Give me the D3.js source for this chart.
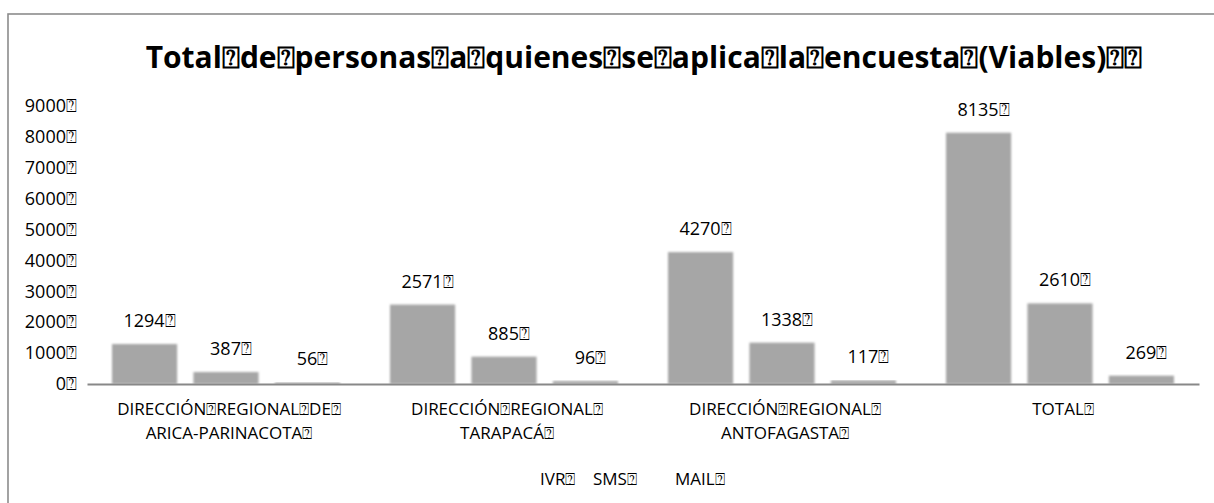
<!DOCTYPE html>
<html>
<head>
<meta charset="utf-8">
<script src="https://cdn.jsdelivr.net/npm/d3@7"></script>
<style>
  html, body { margin: 0; padding: 0; background: #fff; }
  svg { display: block; }
  text { font-family: "Open Sans", "DejaVu Sans", sans-serif; fill: #000; }
</style>
</head>
<body>
<svg id="chart" width="1214" height="503"></svg>
<script>
const B = "\u2370";
const titleText = "Total" + B + "de" + B + "personas" + B + "a" + B + "quienes" + B + "se" + B + "aplica" + B + "la" + B + "encuesta" + B + "(Viables)" + B + B;
const categories = ["ARICA", "TARAPACA", "ANTOFAGASTA", "TOTAL"];
const categoryLines = [
  ["DIRECCIÓN" + B + "REGIONAL" + B + "DE" + B, "ARICA-PARINACOTA" + B],
  ["DIRECCIÓN" + B + "REGIONAL" + B, "TARAPACÁ" + B],
  ["DIRECCIÓN" + B + "REGIONAL" + B, "ANTOFAGASTA" + B],
  ["TOTAL" + B]
];
const seriesNames = ["IVR", "SMS", "MAIL"];
const ivrValues = [1294, 2571, 4270, 8135];
const smsValues = [387, 885, 1338, 2610];
const mailValues = [56, 96, 117, 269];
const yTicks = [0, 1000, 2000, 3000, 4000, 5000, 6000, 7000, 8000, 9000];

const seriesValues = [ivrValues, smsValues, mailValues];

const svg = d3.select("#chart");
const defs = svg.append("defs");
defs.append("filter").attr("id", "soft")
  .attr("x", "-10%").attr("y", "-10%").attr("width", "120%").attr("height", "120%")
  .append("feGaussianBlur").attr("stdDeviation", 1.1);

// outer frame
svg.append("rect").attr("x", 8).attr("y", 14).attr("width", 1300).attr("height", 700)
  .attr("fill", "none").attr("stroke", "#8c8c8c").attr("stroke-width", 1.6);

const x0 = d3.scaleBand().domain(categories).range([87, 1199]).paddingInner(0).paddingOuter(0);
const x1 = d3.scaleBand().domain(seriesNames).range([25, x0.bandwidth() - 25]).paddingInner(0.2).paddingOuter(0);
const y = d3.scaleLinear().domain([0, 9000]).range([384, 106]);

// title
svg.append("text").attr("x", 644).attr("y", 68).attr("text-anchor", "middle")
  .style("font-size", "30px").style("font-weight", "bold").text(titleText);

// y axis
const yAxis = d3.axisLeft(y).tickValues(yTicks).tickSize(0).tickPadding(10)
  .tickFormat(d => d + B);
const gy = svg.append("g").attr("transform", "translate(87,0)").call(yAxis);
gy.select(".domain").remove();
gy.selectAll("text").style("font-size", "18px").style("font-family", "'Open Sans', sans-serif").attr("fill", "#000");

// bars
const groups = svg.append("g").selectAll("g").data(categories).join("g")
  .attr("transform", d => `translate(${x0(d)},0)`);
const cells = (c, i) => seriesNames.map((s, j) => ({ s, v: seriesValues[j][i] }));
groups.selectAll("rect").data(cells)
  .join("rect")
  .attr("x", d => x1(d.s)).attr("width", x1.bandwidth())
  .attr("y", d => y(d.v)).attr("height", d => y(0) - y(d.v))
  .attr("fill", "#a6a6a6").attr("filter", "url(#soft)");
groups.selectAll("text.val").data(cells)
  .join("text").attr("class", "val")
  .attr("x", d => x1(d.s) + x1.bandwidth() / 2 + 5)
  .attr("y", d => y(d.v) - 17)
  .attr("text-anchor", "middle").style("font-size", "18px")
  .text(d => d.v + B);

// x axis
const xAxis = d3.axisBottom(x0).tickSize(0).tickSizeOuter(0).tickFormat("");
const gx = svg.append("g").attr("transform", `translate(0,${y(0)})`).call(xAxis);
gx.select(".domain").attr("stroke", "#888").attr("stroke-width", 2);
gx.selectAll(".tick text").remove();
categories.forEach((c, i) => {
  const cx = x0(c) + x0.bandwidth() / 2 + 3;
  const t = svg.append("text").attr("text-anchor", "middle").style("font-size", "17px")
    .attr("x", cx).attr("y", 415);
  categoryLines[i].forEach((ln, k) => {
    t.append("tspan").attr("x", cx).attr("dy", k === 0 ? 0 : 24).text(ln);
  });
});

// legend
const legendX = { IVR: 540, SMS: 593, MAIL: 675 };
svg.append("g").selectAll("text").data(seriesNames).join("text")
  .attr("x", d => legendX[d]).attr("y", 485).style("font-size", "17px")
  .text(d => d + B);
</script>
</body>
</html>
